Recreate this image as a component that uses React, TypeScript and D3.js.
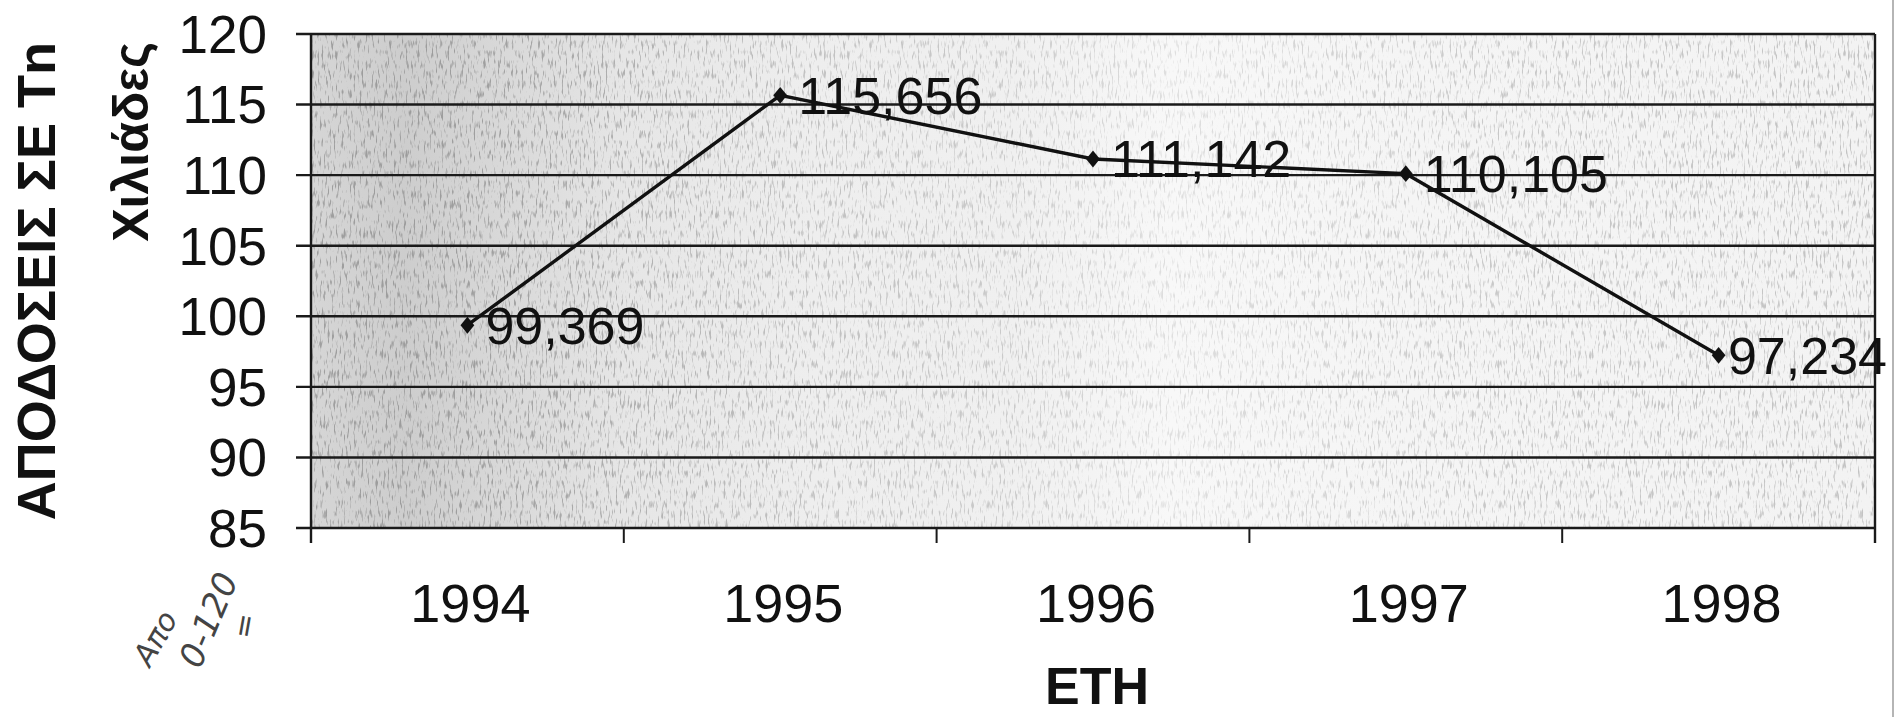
import React, { useEffect, useRef } from "react";
import * as d3 from "d3";

// Yearly returns in thousands of tonnes
const years = ["1994", "1995", "1996", "1997", "1998"];
const yields = [99.369, 115.656, 111.142, 110.105, 97.234];
const yTicks = [85, 90, 95, 100, 105, 110, 115, 120];
const yTitle = "ΑΠΟΔΟΣΕΙΣ ΣΕ Τn";
const ySubTitle = "Χιλιάδες";
const xTitle = "ΕΤΗ";
const noteLines = ["Απο", "0-120", "="];

const W = 1901;
const H = 717;
const FONT = "'Liberation Sans', Arial, Helvetica, sans-serif";

const fmt = (v: number) => v.toFixed(3).replace(".", ",");

export default function App() {
  const ref = useRef<SVGSVGElement | null>(null);

  useEffect(() => {
    const svg = d3.select(ref.current);
    svg.selectAll("*").remove();

    const plot = { left: 311, right: 1875, top: 34, bottom: 528 };

    const x = d3.scaleBand<string>().domain(years).range([plot.left, plot.right]).paddingInner(0).paddingOuter(0);
    const y = d3.scaleLinear().domain([85, 120]).range([plot.bottom, plot.top]);

    const defs = svg.append("defs");

    // tone of the plot-area fill, darker at the left
    const grad = defs.append("linearGradient").attr("id", "plotFill").attr("x1", "0").attr("x2", "1").attr("y1", "0").attr("y2", "0");
    [
      [0, "#d6d6d6"],
      [0.06, "#cdcdcd"],
      [0.12, "#d8d8d8"],
      [0.2, "#e6e6e6"],
      [0.32, "#eeeeee"],
      [0.45, "#f0f0f0"],
      [0.55, "#f8f8f8"],
      [0.7, "#f5f5f5"],
      [1, "#f3f3f3"],
    ].forEach(([o, c]) => grad.append("stop").attr("offset", o as number).attr("stop-color", c as string));

    // density of the speckle
    const mgrad = defs.append("linearGradient").attr("id", "grainDensity").attr("x1", "0").attr("x2", "1").attr("y1", "0").attr("y2", "0");
    [
      [0, "#ffffff"],
      [0.12, "#ffffff"],
      [0.3, "#aaaaaa"],
      [0.45, "#888888"],
      [0.55, "#555555"],
      [0.75, "#999999"],
      [1, "#aaaaaa"],
    ].forEach(([o, c]) => mgrad.append("stop").attr("offset", o as number).attr("stop-color", c as string));

    const mask = defs.append("mask").attr("id", "grainMask");
    mask
      .append("rect")
      .attr("x", plot.left)
      .attr("y", plot.top)
      .attr("width", plot.right - plot.left)
      .attr("height", plot.bottom - plot.top)
      .attr("fill", "url(#grainDensity)");

    const filt = defs
      .append("filter")
      .attr("id", "grain")
      .attr("x", 0)
      .attr("y", 0)
      .attr("width", "100%")
      .attr("height", "100%");
    filt
      .append("feTurbulence")
      .attr("type", "fractalNoise")
      .attr("baseFrequency", "0.5 0.1")
      .attr("numOctaves", 2)
      .attr("seed", 7)
      .attr("result", "noise");
    filt
      .append("feColorMatrix")
      .attr("in", "noise")
      .attr("type", "matrix")
      .attr("values", "0 0 0 0 0.2  0 0 0 0 0.2  0 0 0 0 0.2  5 0 0 0 -2.7");

    // plot area
    svg
      .append("rect")
      .attr("x", plot.left)
      .attr("y", plot.top)
      .attr("width", plot.right - plot.left)
      .attr("height", plot.bottom - plot.top)
      .attr("fill", "url(#plotFill)");
    svg
      .append("rect")
      .attr("x", plot.left)
      .attr("y", plot.top)
      .attr("width", plot.right - plot.left)
      .attr("height", plot.bottom - plot.top)
      .attr("filter", "url(#grain)")
      .attr("mask", "url(#grainMask)")
      .attr("opacity", 0.6);

    // horizontal gridlines with ticks
    svg
      .append("g")
      .selectAll("line")
      .data(yTicks)
      .join("line")
      .attr("x1", plot.left - 15)
      .attr("x2", plot.right)
      .attr("y1", (d) => y(d))
      .attr("y2", (d) => y(d))
      .attr("stroke", "#1a1a1a")
      .attr("stroke-width", 2.4);

    // y tick labels
    svg
      .append("g")
      .selectAll("text")
      .data(yTicks)
      .join("text")
      .attr("x", 267)
      .attr("y", (d) => y(d))
      .attr("dy", "0.355em")
      .attr("text-anchor", "end")
      .attr("font-family", FONT)
      .attr("font-size", 53)
      .attr("fill", "#111")
      .text((d) => String(d));

    // category boundaries on the x axis
    const bounds = years.map((d) => x(d) as number).concat([plot.right]);
    svg
      .append("g")
      .selectAll("line")
      .data(bounds)
      .join("line")
      .attr("x1", (d) => d)
      .attr("x2", (d) => d)
      .attr("y1", (d, i) => (i === 0 || i === bounds.length - 1 ? plot.top : plot.bottom))
      .attr("y2", plot.bottom + 15)
      .attr("stroke", "#1a1a1a")
      .attr("stroke-width", (d, i) => (i === 0 || i === bounds.length - 1 ? 2.4 : 2));

    // x tick labels
    svg
      .append("g")
      .selectAll("text")
      .data(years)
      .join("text")
      .attr("x", (d) => (x(d) as number) + x.bandwidth() / 2 + 3)
      .attr("y", 622)
      .attr("text-anchor", "middle")
      .attr("font-family", FONT)
      .attr("font-size", 54)
      .attr("fill", "#111")
      .text((d) => d);

    // series line
    const pts = years.map((d, i) => [(x(d) as number) + x.bandwidth() / 2, y(yields[i])] as [number, number]);
    svg
      .append("path")
      .attr("d", d3.line()(pts))
      .attr("fill", "none")
      .attr("stroke", "#111")
      .attr("stroke-width", 3.4);

    // markers
    svg
      .append("g")
      .selectAll("path")
      .data(pts)
      .join("path")
      .attr("transform", (p) => `translate(${p[0]},${p[1]}) scale(0.9,1.1)`)
      .attr("d", d3.symbol().type(d3.symbolDiamond2).size(150)() as string)
      .attr("fill", "#111");

    // value labels, kept inside the chart
    const labels = svg
      .append("g")
      .selectAll("text")
      .data(pts)
      .join("text")
      .attr("y", (p) => p[1])
      .attr("dy", "0.355em")
      .attr("font-family", FONT)
      .attr("font-size", 52)
      .attr("fill", "#111")
      .text((p, i) => fmt(yields[i]));
    labels.each(function (p) {
      const node = this as SVGTextElement;
      const w = node.getComputedTextLength();
      const x0 = Math.min(p[0] + 18, 1887 - w);
      d3.select(node).attr("x", x0);
    });

    // axis titles
    svg
      .append("text")
      .attr("transform", "translate(55,42) rotate(-90)")
      .attr("text-anchor", "end")
      .attr("font-family", FONT)
      .attr("font-weight", "bold")
      .attr("font-size", 54)
      .attr("fill", "#111")
      .text(yTitle);
    svg
      .append("text")
      .attr("transform", "translate(148,42) rotate(-90)")
      .attr("text-anchor", "end")
      .attr("font-family", FONT)
      .attr("font-weight", "bold")
      .attr("font-size", 50)
      .attr("fill", "#111")
      .text(ySubTitle);
    svg
      .append("text")
      .attr("x", (plot.left + plot.right) / 2 + 4)
      .attr("y", 704)
      .attr("text-anchor", "middle")
      .attr("font-family", FONT)
      .attr("font-weight", "bold")
      .attr("font-size", 52)
      .attr("fill", "#111")
      .text(xTitle);

    // pencil note below the value axis
    const note = svg.append("g").attr("font-family", "'DejaVu Sans', sans-serif").attr("font-style", "italic").attr("fill", "#444");
    note.append("text").attr("transform", "translate(150,668) rotate(-60)").attr("font-size", 30).attr("font-weight", 300).text(noteLines[0]);
    note.append("text").attr("transform", "translate(200,670) rotate(-67)").attr("font-size", 34).attr("font-weight", 300).text(noteLines[1]);
    note.append("text").attr("transform", "translate(252,640) rotate(-80)").attr("font-size", 30).attr("font-weight", 300).text(noteLines[2]);

    // edge of the sheet
    svg
      .append("line")
      .attr("x1", 1893)
      .attr("x2", 1893)
      .attr("y1", 0)
      .attr("y2", H)
      .attr("stroke", "#b5b5b5")
      .attr("stroke-width", 2);
  }, []);

  return (
    <div style={{ position: "absolute", left: 0, top: 0, background: "#fff" }}>
      <svg ref={ref} width={W} height={H} style={{ display: "block" }} />
    </div>
  );
}
